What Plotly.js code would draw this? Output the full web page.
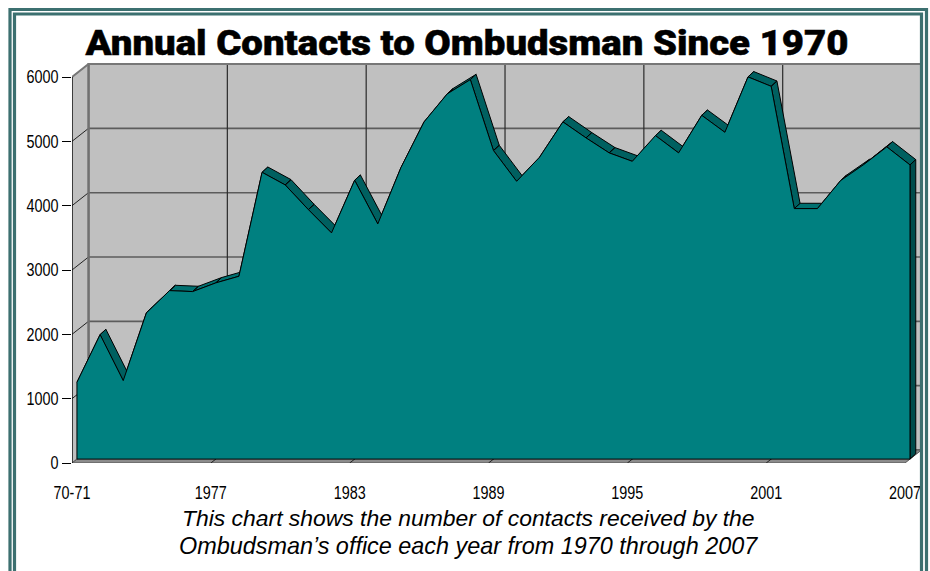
<!DOCTYPE html>
<html>
<head>
<meta charset="utf-8">
<script src="https://cdn.plot.ly/plotly-3.0.1.min.js"></script>
<style>html,body{margin:0;padding:0;background:#fff;overflow:hidden}</style>
</head>
<body>
<div id="chart" style="width:930px;height:571px"></div>
<script>
const contacts = [1194,1935,1220,2273,2619,2604,2739,2842,4458,4262,3878,3516,4334,3656,4531,5242,5677,5899,4796,4318,4698,5242,4993,4760,4629,5029,4760,5344,5080,5941,5795,3894,3894,4329,4578,4853,4573];
const tickIndex = [0,6,12,18,24,30,36];
const tickLabels = ['70-71','1977','1983','1989','1995','2001','2007'];
const valueTicks = [0,1000,2000,3000,4000,5000,6000];

// page geometry
const W=930,H=571,L=72,B=463,T=60,PXI=23.14,PXV=0.06433;
const xMax=(W-L)/PXI, yMax=(B-T)/PXV;
const DX=16.5/PXI, DY=13/PXV;            // full depth of the box in data units
const fr=0.30, bkX=0.65, bkY=0.71;       // depth of the area's front and back faces
const px=x=>(x-L)/(W-L), py=y=>(B-y)/(B-T);

const n=contacts.length;
const fx=i=>i+fr*DX, fy=v=>v+fr*DY, bx=i=>i+bkX*DX, by=v=>v+bkY*DY;

const poly=(xs,ys,fill,line,w)=>({x:xs,y:ys,mode:'lines',fill:'toself',fillcolor:fill,
  line:{color:line,width:w},hoverinfo:'skip',showlegend:false,cliponaxis:false});
const seg=(xs,ys,color,w)=>({x:xs,y:ys,mode:'lines',line:{color:color,width:w},hoverinfo:'skip',showlegend:false,cliponaxis:false});

const traces=[];
// walls and floor
traces.push(poly([DX,36+DX,36+DX,DX,DX],[DY,DY,6000+DY,6000+DY,DY],'#c0c0c0','#6e6e6e',2));
traces.push(poly([0,DX,DX,0,0],[0,DY,6000+DY,6000,0],'#c0c0c0','#6e6e6e',1));
traces.push(poly([0,36,36+DX,DX,0],[0,0,DY,DY,0],'#8c8c8c','#555555',1));
// back-wall horizontal grid
let gx=[],gy=[];
valueTicks.slice(1,-1).forEach(v=>{gx.push(DX,36+DX,null);gy.push(v+DY,v+DY,null);});
traces.push(seg(gx,gy,'#5c5c5c',1.6));
// back-wall vertical grid
gx=[];gy=[];
tickIndex.slice(1,-1).forEach(i=>{gx.push(i+DX,i+DX,null);gy.push(DY,6000+DY,null);});
traces.push(seg(gx,gy,'#2a2a2a',1.2));
// side-wall and floor diagonals
gx=[];gy=[];
valueTicks.slice(1,-1).forEach(v=>{gx.push(0,DX,null);gy.push(v,v+DY,null);});
tickIndex.slice(1,-1).forEach(i=>{gx.push(i,i+DX,null);gy.push(0,DY,null);});
traces.push(seg(gx,gy,'#222222',1));
traces.push(seg([DX,DX],[DY,6000+DY],'#707070',2.4));
traces.push(seg([0,DX,36+DX],[6000,6000+DY,6000+DY],'#777777',2));
// top facets of the area
const facet=(filter,color)=>{
  const xs=[],ys=[];
  for(let i=0;i<n-1;i++){
    if(!filter(contacts[i+1]-contacts[i])) continue;
    xs.push(fx(i),fx(i+1),bx(i+1),bx(i),fx(i),null);
    ys.push(fy(contacts[i]),fy(contacts[i+1]),by(contacts[i+1]),by(contacts[i]),fy(contacts[i]),null);
  }
  return poly(xs,ys,color,'#000000',1);
};
traces.push(facet(d=>d>=-20,'#007070'));
traces.push(facet(d=>d<-20,'#006060'));
// right end of the area
traces.push(poly([fx(36),bx(36),bx(36),fx(36),fx(36)],[fy(0),by(0),by(contacts[36]),fy(contacts[36]),fy(0)],'#004c4c','#000000',1));
// front face of the area
const idx=contacts.map((_,i)=>fx(i));
traces.push(poly([fx(0),...idx,fx(36),fx(0)],[fy(0),...contacts.map(fy),fy(0),fy(0)],'#008080','#000000',1));
// axis lines
traces.push(seg([0,0],[0,6000],'#000000',1.2));

const frame='#3c7070';
const rect=(x0,y0,x1,y1)=>({type:'rect',xref:'paper',yref:'paper',x0:px(x0),x1:px(x1),y0:py(y0),y1:py(y1),
  line:{color:frame,width:3.2},fillcolor:'rgba(0,0,0,0)',layer:'above'});

const layout={
  width:W,height:H,
  margin:{l:L,r:0,t:T,b:H-B,pad:0},
  paper_bgcolor:'#ffffff',plot_bgcolor:'#ffffff',
  showlegend:false,
  title:{text:'Annual Contacts to Ombudsman Since 1970',x:467/W,xanchor:'center',y:1-42.5/H,yanchor:'middle',
    font:{family:'Roboto, sans-serif',size:35,color:'#000000',weight:900}},
  xaxis:{range:[0,xMax],showgrid:false,zeroline:false,showline:false,tickmode:'array',tickvals:tickIndex,ticktext:tickLabels,
    ticks:'outside',ticklen:13,tickcolor:'rgba(0,0,0,0)',tickangle:0,
    tickfont:{family:'"Liberation Sans", sans-serif',size:18,color:'#000000'}},
  yaxis:{range:[0,yMax],showgrid:false,zeroline:false,showline:false,tickmode:'array',tickvals:valueTicks,
    ticks:'outside',ticklen:9,tickwidth:1,tickcolor:'#000000',
    tickfont:{family:'"Liberation Sans", sans-serif',size:18,color:'#000000'}},
  shapes:[rect(10,9.5,926.5,H+20),rect(14.5,14,921.5,H+20)],
  annotations:[
    {text:'This chart shows the number of contacts received by the',xref:'paper',yref:'paper',x:px(468),y:py(518),xanchor:'center',yanchor:'middle',showarrow:false,
     font:{family:'"Liberation Sans", Arial, sans-serif',size:22.9,color:'#000000',style:'italic'}},
    {text:'Ombudsman’s office each year from 1970 through 2007',xref:'paper',yref:'paper',x:px(468),y:py(546),xanchor:'center',yanchor:'middle',showarrow:false,
     font:{family:'"Liberation Sans", Arial, sans-serif',size:23.4,color:'#000000',style:'italic'}}
  ]
};
Plotly.newPlot('chart',traces,layout,{displayModeBar:false,staticPlot:true}).then(gd=>{
  // condense the tick labels to the reference's narrow face, and widen the heavy title
  gd.querySelectorAll('.xtick text, .ytick text').forEach(t=>{
    t.setAttribute('lengthAdjust','spacingAndGlyphs');
    t.setAttribute('textLength',(t.getComputedTextLength()*0.8).toFixed(1));
  });
  const title=gd.querySelector('.gtitle');
  if(title){
    title.setAttribute('lengthAdjust','spacingAndGlyphs');
    title.setAttribute('textLength','763');
    title.style.stroke='#000000';
    title.style.strokeWidth='0.5px';
  }
});
</script>
</body>
</html>
